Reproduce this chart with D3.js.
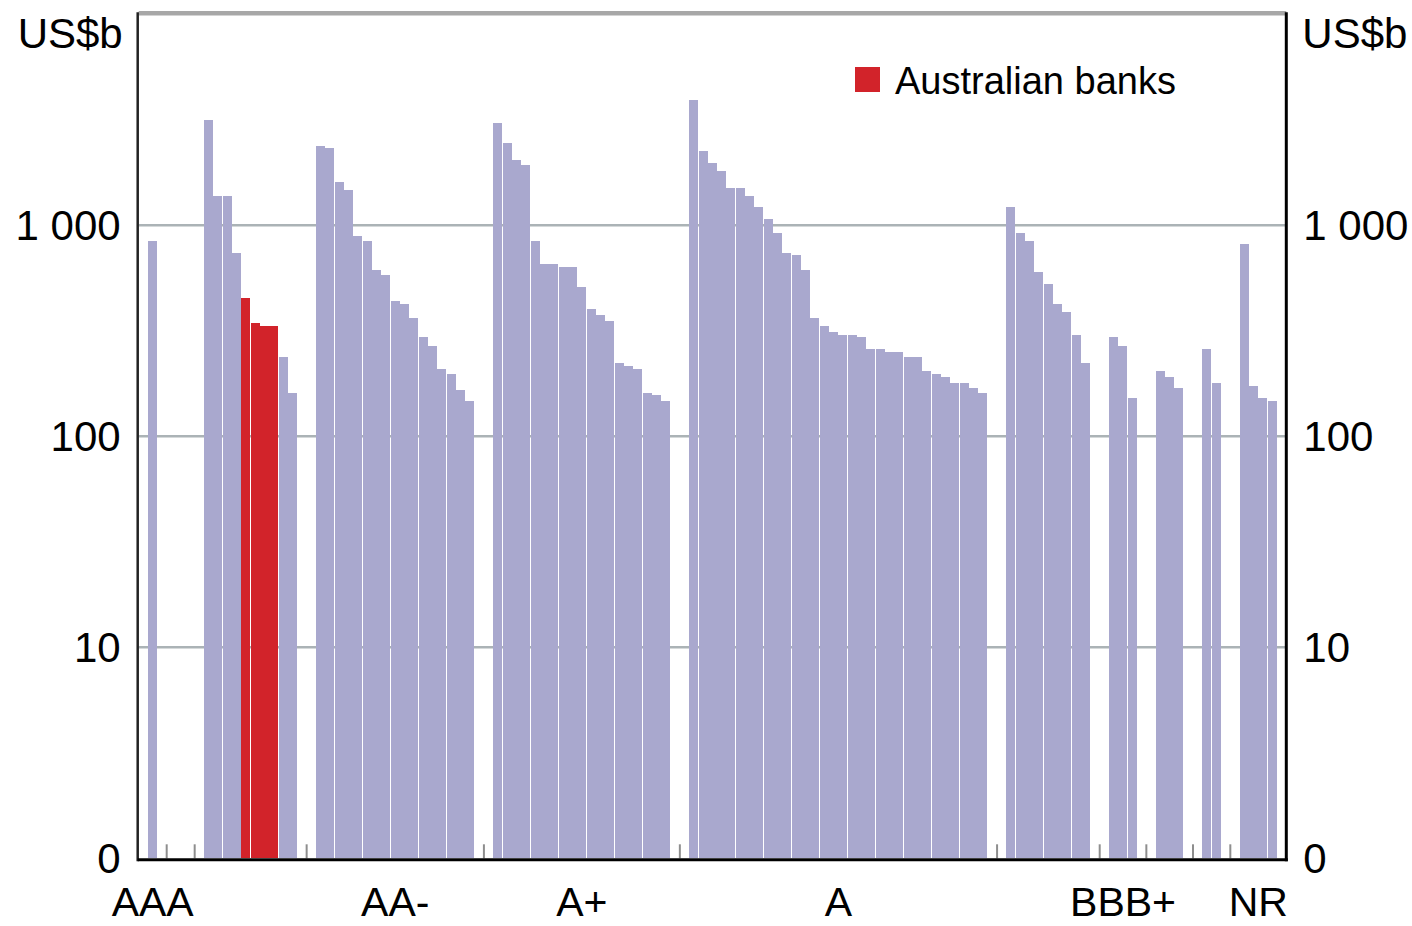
<!DOCTYPE html>
<html>
<head>
<meta charset="utf-8">
<script src="https://cdn.jsdelivr.net/npm/d3@7"></script>
<style>
    body { margin: 0; background: #ffffff; }
    text { font-family: "Liberation Sans", Arial, sans-serif; fill: #000; }
</style>
</head>
<body>
<div id="bar-chart"></div>
<script>
// Rating groups, in order along the axis
const ratingGroups = ["AAA", "AA+", "AA", "AA-", "A+", "A", "A-", "BBB+", "BBB", "BBB-", "NR"];
const shownLabels = ["AAA", "AA-", "A+", "A", "BBB+", "NR"];

// Bank assets, US$b (log scale), one array per rating
const aaaValues = [842];
const aaPlusValues = [null];
const aaValues = [3155, 1377, 1377, 739, 452, 344, 333, 333, 238, 160];
const aaMinusValues = [2376, 2324, 1604, 1469, 890, 842, 614, 581, 438, 424, 364, 296, 268, 208, 197, 166, 147];
const aPlusValues = [3053, 2455, 2039, 1930, 842, 656, 656, 634, 634, 510, 401, 376, 352, 222, 215, 208, 160, 157, 147];
const aValues = [3926, 2250, 1974, 1808, 1503, 1503, 1377, 1222, 1071, 920, 739, 723, 614, 364, 333, 312,
    302, 302, 296, 259, 259, 251, 251, 238, 238, 204, 197, 191, 179, 179, 169, 160];
const aMinusValues = [1222, 920, 842, 601, 527, 424, 388, 302, 222];
const bbbPlusValues = [296, 268, 152];
const bbbValues = [204, 191, 169];
const bbbMinusValues = [259, 179];
const nrValues = [815, 173, 152, 147];

// Australian banks: positions inside the AA group
const australianBankIndex = [4, 5, 6, 7];

const yTicks = [1, 10, 100, 1000];
const yTickLabels = ["0", "10", "100", "1 000"];

const groupValues = [aaaValues, aaPlusValues, aaValues, aaMinusValues, aPlusValues, aValues,
    aMinusValues, bbbPlusValues, bbbValues, bbbMinusValues, nrValues];

// Build slots: one empty slot either side of each rating group
const slots = [];
ratingGroups.forEach((g, gi) => {
    slots.push({ id: slots.length, group: g, value: null });
    groupValues[gi].forEach((v, i) => {
        slots.push({
            id: slots.length,
            group: g,
            value: v,
            aus: g === "AA" && australianBankIndex.includes(i)
        });
    });
    slots.push({ id: slots.length, group: g, value: null });
});

const W = 1412, H = 926;
const plot = { left: 138.7, right: 1286.3, top: 14.3, bottom: 858.3 };

const svg = d3.select("#bar-chart")
    .append("svg")
    .attr("width", W)
    .attr("height", H);

const x = d3.scaleBand()
    .domain(slots.map(d => d.id))
    .range([plot.left, plot.right])
    .paddingInner(0)
    .paddingOuter(0);

const y = d3.scaleLog()
    .domain([1, 10000])
    .range([plot.bottom, plot.top]);

// Gridlines
svg.append("g")
    .selectAll("line")
    .data(yTicks.slice(1))
    .enter()
    .append("line")
    .attr("x1", plot.left)
    .attr("x2", plot.right)
    .attr("y1", d => y(d))
    .attr("y2", d => y(d))
    .attr("stroke", "#abb3b6")
    .attr("stroke-width", 2.5);

// top border (10 000 line)
svg.append("line")
    .attr("x1", plot.left)
    .attr("x2", plot.right)
    .attr("y1", y(10000) - 1)
    .attr("y2", y(10000) - 1)
    .attr("stroke", "#a7a7a7")
    .attr("stroke-width", 4.5);

// Bars
const barWidth = Math.floor(x.bandwidth());
svg.append("g")
    .attr("shape-rendering", "crispEdges")
    .selectAll("rect")
    .data(slots.filter(d => d.value))
    .enter()
    .append("rect")
    .attr("x", d => Math.round(x(d.id)))
    .attr("width", barWidth)
    .attr("y", d => Math.round(y(d.value)))
    .attr("height", d => Math.round(y(1)) - Math.round(y(d.value)))
    .attr("fill", d => d.aus ? "#d2232a" : "#a9a8ce");

// Group separator ticks on the x axis
const groupStarts = ratingGroups.slice(1).map(g => slots.find(s => s.group === g).id);
svg.append("g")
    .selectAll("line")
    .data(groupStarts)
    .enter()
    .append("line")
    .attr("x1", d => x(d))
    .attr("x2", d => x(d))
    .attr("y1", y(1))
    .attr("y2", y(1) - 14)
    .attr("stroke", "#8e8e8e")
    .attr("stroke-width", 2);

// Axis frame
svg.append("line")
    .attr("x1", plot.left - 1).attr("x2", plot.left - 1)
    .attr("y1", plot.top - 2).attr("y2", y(1) + 3)
    .attr("stroke", "#222").attr("stroke-width", 2.5);
svg.append("line")
    .attr("x1", plot.right).attr("x2", plot.right)
    .attr("y1", plot.top - 2).attr("y2", y(1) + 3)
    .attr("stroke", "#000").attr("stroke-width", 3);
svg.append("line")
    .attr("x1", plot.left - 1).attr("x2", plot.right + 1.5)
    .attr("y1", y(1) + 1.5).attr("y2", y(1) + 1.5)
    .attr("stroke", "#000").attr("stroke-width", 3);

// Y tick labels, both sides
const fontSize = 42;
yTicks.forEach((t, i) => {
    svg.append("text")
        .attr("x", plot.left - 18)
        .attr("y", y(t))
        .attr("dy", "0.35em")
        .attr("text-anchor", "end")
        .style("font-size", `${fontSize}px`)
        .text(yTickLabels[i]);
    svg.append("text")
        .attr("x", plot.right + 17)
        .attr("y", y(t))
        .attr("dy", "0.35em")
        .attr("text-anchor", "start")
        .style("font-size", `${fontSize}px`)
        .text(yTickLabels[i]);
});

// Units
svg.append("text")
    .attr("x", plot.left - 16)
    .attr("y", 48)
    .attr("text-anchor", "end")
    .style("font-size", `${fontSize}px`)
    .text("US$b");
svg.append("text")
    .attr("x", plot.right + 16)
    .attr("y", 48)
    .attr("text-anchor", "start")
    .style("font-size", `${fontSize}px`)
    .text("US$b");

// X category labels, centred on their group
shownLabels.forEach(g => {
    const ids = slots.filter(s => s.group === g).map(s => s.id);
    const cx = (x(ids[0]) + x(ids[ids.length - 1]) + x.bandwidth()) / 2;
    svg.append("text")
        .attr("x", cx)
        .attr("y", 916)
        .attr("text-anchor", "middle")
        .style("font-size", "41px")
        .text(g);
});

// Legend
const legend = svg.append("g")
    .attr("transform", "translate(855, 67)");
legend.append("rect")
    .attr("width", 25)
    .attr("height", 25)
    .attr("fill", "#d2232a");
legend.append("text")
    .attr("x", 40)
    .attr("y", 27)
    .style("font-size", "38px")
    .text("Australian banks");
</script>
</body>
</html>
